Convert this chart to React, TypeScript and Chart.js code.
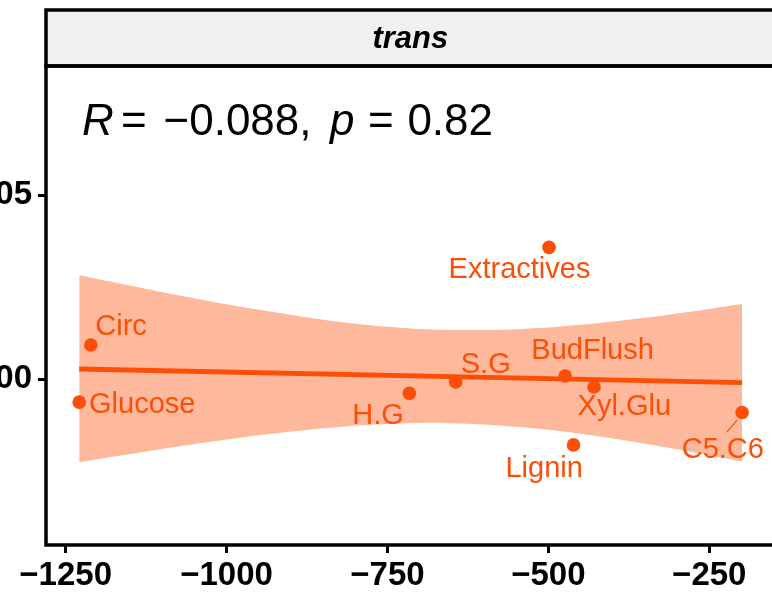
import { useEffect, useRef } from "react";
import { Chart, registerables } from "chart.js";
Chart.register(...registerables);

// ---- data ----
const pointLabels = ["Glucose", "Circ", "H.G", "S.G", "BudFlush", "Xyl.Glu", "Extractives", "Lignin", "C5.C6"];
const xValues = [-1229, -1211, -716, -644, -474, -429, -499, -461, -199];
const yValues = [-0.0062, 0.0093, -0.0038, -0.0007, 0.0009, -0.0021, 0.0358, -0.0178, -0.009];

const fitX = [-1229, -199];
const fitY = [0.0028, -0.0009];

const bandX = [-1229, -1130, -1030, -930, -830, -730, -651, -550, -450, -350, -250, -199];
const bandUpper = [0.0282, 0.0247, 0.0213, 0.0183, 0.0157, 0.014, 0.0134, 0.0136, 0.0148, 0.0167, 0.0191, 0.0204];
const bandLower = [-0.0225, -0.0197, -0.0171, -0.0148, -0.013, -0.012, -0.0119, -0.0129, -0.0148, -0.0175, -0.0206, -0.0223];

const xTicks = [-1250, -1000, -750, -500, -250];
const yTicks = [0, 0.05];
const stripTitle = "trans";
const corR = "\u22120.088,";
const corP = "0.82";

// ---- layout / style (not data) ----
const labelOffsets: [number, number][] = [
  [63, 10.7], [30.3, -10], [-31.3, 30.7], [30, -9], [27.5, -17], [30.2, 28], [-29.5, 30.7], [-29.3, 31.7], [-19.3, 46],
];
const COLOR = "#FC4E07";
const FONT = "'Liberation Sans', Arial, Helvetica, sans-serif";
const OX = 60; // canvas shifted left by this many px
const CW = 862;
const CH = 595;

export default function App() {
  const ref = useRef<HTMLCanvasElement | null>(null);
  useEffect(() => {
    if (!ref.current) return;
    const decor = {
      id: "decor",
      afterDatasetsDraw(chart: any) {
        const ctx = chart.ctx;
        const meta = chart.getDatasetMeta(0);
        ctx.save();
        ctx.fillStyle = COLOR;
        ctx.strokeStyle = COLOR;
        ctx.font = `29px ${FONT}`;
        ctx.textAlign = "center";
        ctx.textBaseline = "alphabetic";
        meta.data.forEach((el: any, i: number) => {
          const [dx, dy] = labelOffsets[i];
          ctx.fillText(pointLabels[i], el.x + dx, el.y + dy);
          if (pointLabels[i] === "C5.C6") {
            ctx.lineWidth = 1.2;
            ctx.beginPath();
            ctx.moveTo(el.x - 5, el.y + 7.7);
            ctx.lineTo(el.x - 15, el.y + 19.4);
            ctx.stroke();
          }
        });
        ctx.restore();
      },
      afterDraw(chart: any) {
        const ctx = chart.ctx;
        const a = chart.chartArea;
        ctx.save();
        // strip
        const stripTop = 10;
        ctx.fillStyle = "#F0F0F0";
        ctx.fillRect(a.left, stripTop, a.right - a.left, a.top - stripTop);
        ctx.lineWidth = 3.5;
        ctx.strokeStyle = "#000";
        ctx.strokeRect(a.left, stripTop, a.right - a.left, a.top - stripTop);
        // panel border
        ctx.strokeRect(a.left, a.top, a.right - a.left, a.bottom - a.top);
        // strip text
        ctx.fillStyle = "#000";
        ctx.font = `italic bold 31px ${FONT}`;
        ctx.textAlign = "center";
        ctx.textBaseline = "middle";
        ctx.fillText(stripTitle, (a.left + a.right) / 2, (stripTop + a.top) / 2 + 1);
        // correlation text
        const x0 = a.left + 36;
        const yb = a.top + 69;
        ctx.textAlign = "left";
        ctx.textBaseline = "alphabetic";
        const pieces: [string, boolean, number][] = [
          ["R", true, 0], ["=", false, 39], [corR, false, 81.5], ["p", true, 248], ["=", false, 286], [corP, false, 325.4],
        ];
        pieces.forEach(([t, it, dx]) => {
          ctx.font = `${it ? "italic " : ""}44px ${FONT}`;
          ctx.fillText(t, x0 + dx, yb);
        });
        ctx.restore();
      },
    };

    const tickFont = { family: FONT, size: 33, weight: "bold" as const };
    const chart = new Chart(ref.current, {
      type: "scatter",
      data: {
        datasets: [
          {
            type: "scatter",
            data: xValues.map((x, i) => ({ x, y: yValues[i] })),
            backgroundColor: COLOR,
            borderWidth: 0,
            pointRadius: 6.8,
          } as any,
          {
            type: "line",
            data: fitX.map((x, i) => ({ x, y: fitY[i] })),
            borderColor: COLOR,
            borderWidth: 4.8,
            pointRadius: 0,
            fill: false,
            tension: 0,
          } as any,
          {
            type: "line",
            data: bandX.map((x, i) => ({ x, y: bandUpper[i] })),
            borderWidth: 0,
            borderColor: "rgba(0,0,0,0)",
            backgroundColor: "rgba(252,78,7,0.4)",
            pointRadius: 0,
            fill: "+1",
            tension: 0.4,
          } as any,
          {
            type: "line",
            data: bandX.map((x, i) => ({ x, y: bandLower[i] })),
            borderWidth: 0,
            borderColor: "rgba(0,0,0,0)",
            pointRadius: 0,
            fill: false,
            tension: 0.4,
          } as any,
        ],
      },
      options: {
        responsive: false,
        animation: false,
        devicePixelRatio: 1,
        layout: { padding: { left: 0, right: CW - (774.6 + OX), top: 66, bottom: 0 } },
        plugins: { legend: { display: false }, tooltip: { enabled: false } },
        scales: {
          x: {
            type: "linear",
            min: -1280.6,
            max: -148.5,
            afterBuildTicks: (s: any) => {
              s.ticks = xTicks.map((v) => ({ value: v }));
            },
            afterFit: (s: any) => {
              s.height = CH - 545;
            },
            grid: { display: true, drawOnChartArea: false, drawTicks: true, tickLength: 8, tickWidth: 3, tickColor: "#000" },
            border: { display: false },
            ticks: {
              font: tickFont,
              color: "#000",
              padding: 3,
              maxRotation: 0,
              autoSkip: false,
              callback: (v: any) => (Number(v) < 0 ? "\u2212" + Math.abs(Number(v)) : String(v)),
            },
          },
          y: {
            type: "linear",
            min: -0.04495,
            max: 0.085,
            afterBuildTicks: (s: any) => {
              s.ticks = yTicks.map((v) => ({ value: v }));
            },
            afterFit: (s: any) => {
              s.width = 46 + OX;
            },
            grid: { display: true, drawOnChartArea: false, drawTicks: true, tickLength: 8, tickWidth: 3, tickColor: "#000" },
            border: { display: false },
            ticks: {
              font: tickFont,
              color: "#000",
              padding: 6,
              autoSkip: false,
              callback: (v: any) => Number(v).toFixed(2),
            },
          },
        },
      } as any,
      plugins: [decor],
    });
    return () => chart.destroy();
  }, []);

  return (
    <div style={{ position: "fixed", left: 0, top: 0, width: 772, height: 595, overflow: "hidden", background: "#fff" }}>
      <canvas
        ref={ref}
        width={CW}
        height={CH}
        style={{ position: "absolute", left: -OX, top: 0, width: CW, height: CH }}
      />
    </div>
  );
}
